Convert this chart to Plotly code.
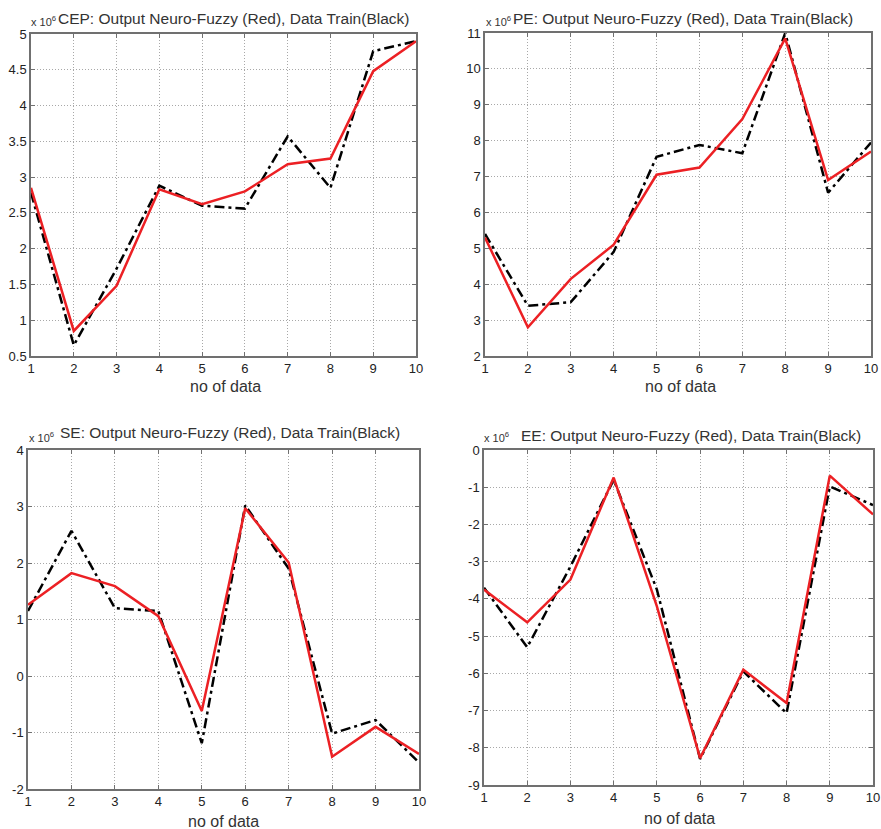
import plotly.graph_objects as go

x_data = [1, 2, 3, 4, 5, 6, 7, 8, 9, 10]

cep_red = [2.85, 0.85, 1.48, 2.83, 2.62, 2.80, 3.18, 3.26, 4.48, 4.90]
cep_black = [2.78, 0.65, 1.72, 2.88, 2.60, 2.56, 3.57, 2.85, 4.76, 4.90]

pe_red = [5.30, 2.80, 4.15, 5.10, 7.05, 7.25, 8.60, 10.85, 6.90, 7.70]
pe_black = [5.40, 3.40, 3.50, 4.90, 7.55, 7.88, 7.65, 11.00, 6.55, 7.95]

se_red = [1.26, 1.82, 1.59, 1.06, -0.62, 2.97, 2.01, -1.43, -0.90, -1.38]
se_black = [1.15, 2.57, 1.20, 1.15, -1.19, 3.02, 1.90, -1.02, -0.78, -1.53]

ee_red = [-3.75, -4.63, -3.48, -0.74, -4.20, -8.28, -5.90, -6.80, -0.69, -1.73]
ee_black = [-3.70, -5.30, -3.13, -0.80, -3.75, -8.30, -5.95, -7.07, -0.98, -1.48]

titles = [
    "CEP: Output Neuro-Fuzzy (Red), Data Train(Black)",
    "PE: Output Neuro-Fuzzy (Red), Data Train(Black)",
    "SE: Output Neuro-Fuzzy (Red), Data Train(Black)",
    "EE: Output Neuro-Fuzzy (Red), Data Train(Black)",
]
cep_yticks = [0.5, 1, 1.5, 2, 2.5, 3, 3.5, 4, 4.5, 5]
pe_yticks = [2, 3, 4, 5, 6, 7, 8, 9, 10, 11]
se_yticks = [-2, -1, 0, 1, 2, 3, 4]
ee_yticks = [-9, -8, -7, -6, -5, -4, -3, -2, -1, 0]
x_label = "no of data"
scale_label = "x 10<sup>6</sup>"

W, H = 881, 829
# pixel boxes: left, right, top, bottom
boxes = [(31, 416, 34, 356), (485, 871, 33, 356), (28, 419, 450, 789), (484, 873, 450, 785)]
title_pos = [(233, 19), (683, 18), (230, 432), (691, 435)]
scale_pos = [(29, 21), (484, 21), (27, 437), (482, 437)]
xlabel_pos = [(225, 386), (680, 386), (223, 821), (679, 818)]

series = [(cep_red, cep_black), (pe_red, pe_black), (se_red, se_black), (ee_red, ee_black)]
yticks_all = [cep_yticks, pe_yticks, se_yticks, ee_yticks]

fig = go.Figure()
font_family = "Liberation Sans, Arial, sans-serif"
layout = dict(
    width=W, height=H, margin=dict(l=0, r=0, t=0, b=0),
    paper_bgcolor="white", plot_bgcolor="white", showlegend=False,
    font=dict(family=font_family, color="#333333"),
)
annotations = []
for i, ((l, r, t, b), (red, black)) in enumerate(zip(boxes, series)):
    n = "" if i == 0 else str(i + 1)
    xa = "x" + n
    ya = "y" + n
    fig.add_trace(go.Scatter(x=x_data, y=black, mode="lines", xaxis=xa, yaxis=ya,
                             line=dict(color="black", width=2.5, dash="10px,4px,3px,4px")))
    fig.add_trace(go.Scatter(x=x_data, y=red, mode="lines", xaxis=xa, yaxis=ya,
                             line=dict(color="#ec2024", width=2.5)))
    axis_common = dict(showline=True, mirror="ticks", linecolor="#707070", linewidth=1.5,
                       ticks="inside", ticklen=4, tickcolor="#707070",
                       showgrid=True, gridcolor="#a8a8a8", griddash="1px,2px", gridwidth=1,
                       zeroline=False, automargin=False,
                       tickfont=dict(size=13, color="#222222", family=font_family))
    yt = yticks_all[i]
    layout["xaxis" + n] = dict(axis_common, domain=[l / W, r / W], range=[1, 10],
                               tickmode="array", tickvals=x_data,
                               ticktext=[str(v) for v in x_data], anchor=ya)
    layout["yaxis" + n] = dict(axis_common, domain=[1 - b / H, 1 - t / H],
                               range=[yt[0], yt[-1]], tickmode="array", tickvals=yt,
                               ticktext=[f"{v:g}" for v in yt], anchor=xa)
    tx, ty = title_pos[i]
    annotations.append(dict(text=titles[i], x=tx / W, y=1 - ty / H, xref="paper",
                            yref="paper", showarrow=False, xanchor="center", yanchor="middle",
                            font=dict(size=15.5, color="#333333")))
    sx, sy = scale_pos[i]
    annotations.append(dict(text=scale_label, x=sx / W, y=1 - sy / H, xref="paper",
                            yref="paper", showarrow=False, xanchor="left", yanchor="middle",
                            font=dict(size=11, color="#333333")))
    lx, ly = xlabel_pos[i]
    annotations.append(dict(text=x_label, x=lx / W, y=1 - ly / H, xref="paper",
                            yref="paper", showarrow=False, xanchor="center", yanchor="middle",
                            font=dict(size=16, color="#333333")))
layout["annotations"] = annotations
fig.update_layout(**layout)
fig.write_html("out.html", config={"displayModeBar": False},
               post_script="document.body.style.margin='0';document.body.style.overflow='hidden';")
